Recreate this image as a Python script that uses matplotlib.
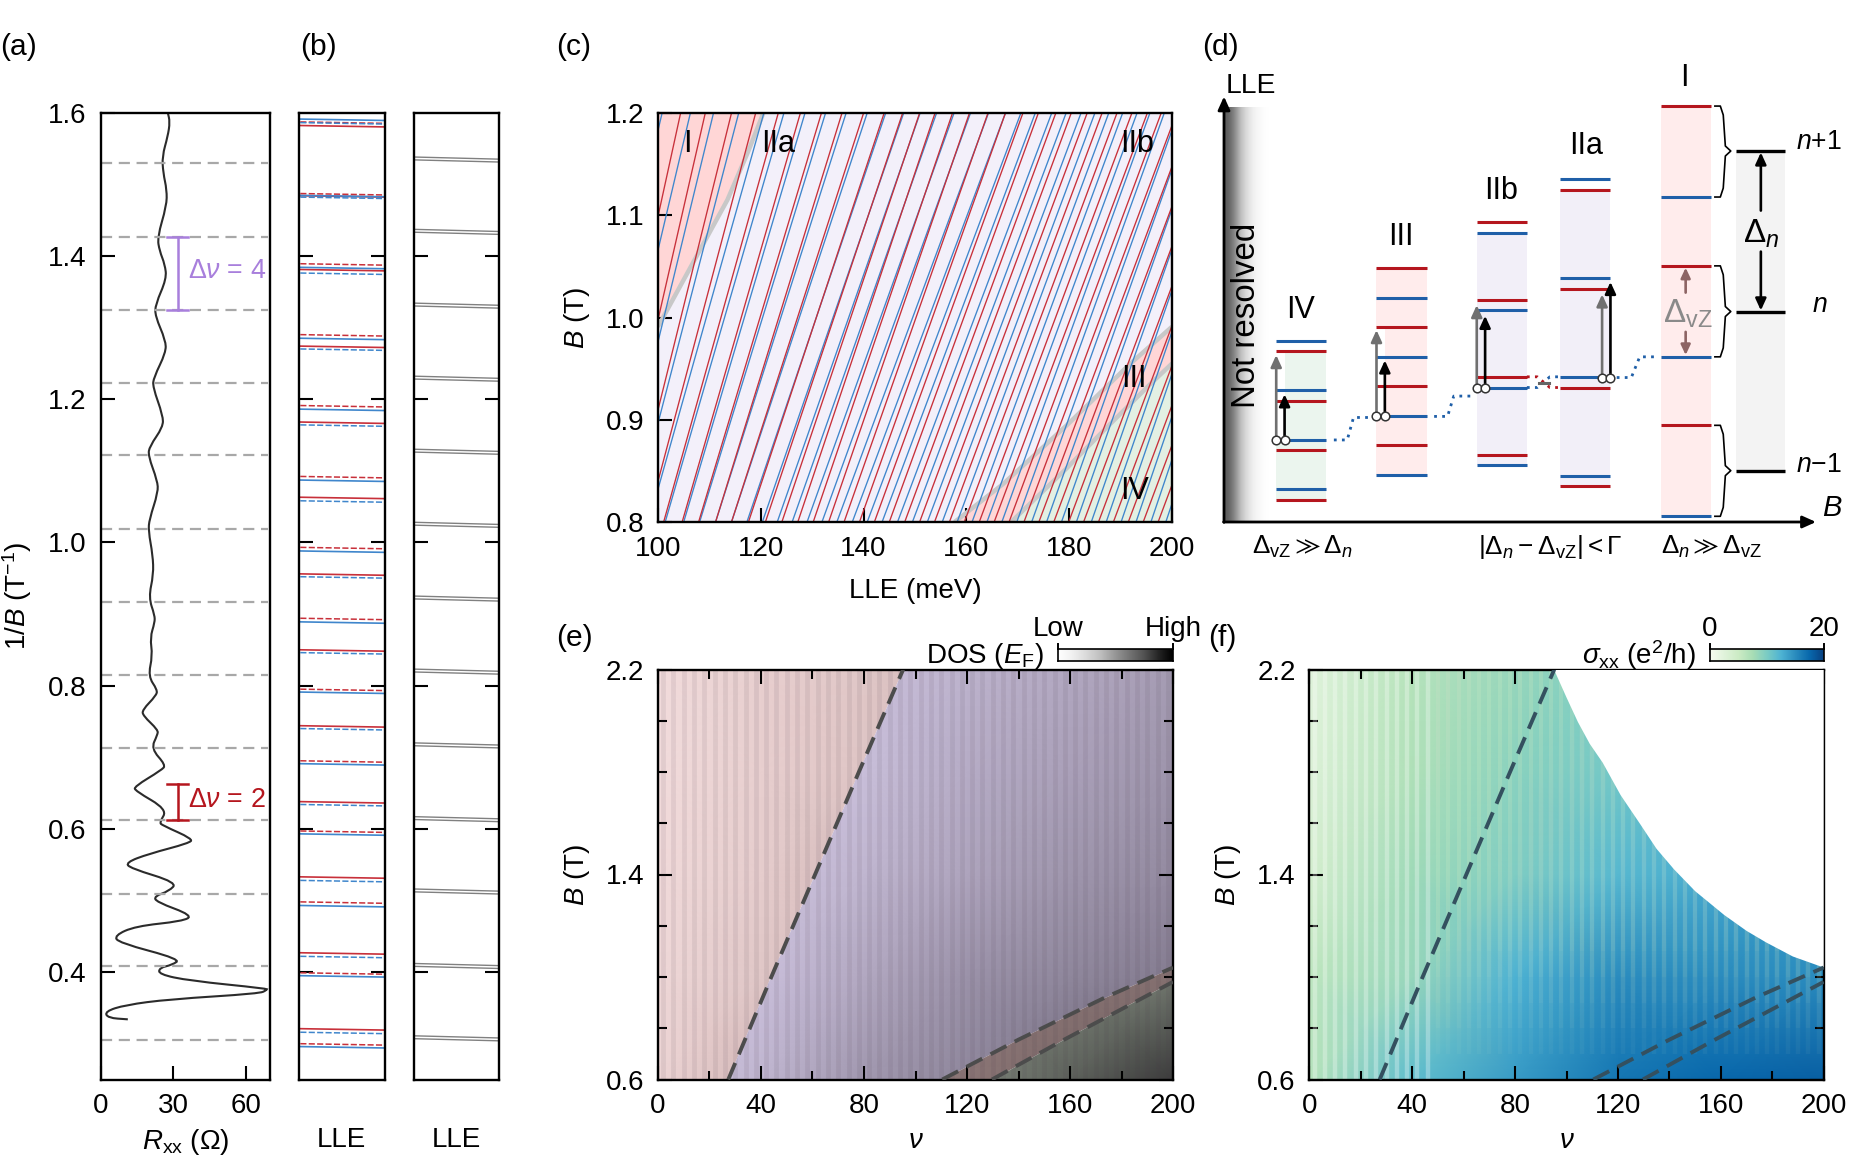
#!/usr/bin/env python3
"""Landau level panels: Rxx trace, level fans, schematic and DOS / sigma maps."""

import matplotlib

matplotlib.use("Agg")
import matplotlib.pyplot as plt
import numpy as np
from matplotlib.colors import LinearSegmentedColormap
from matplotlib.patches import PathPatch, Polygon, Rectangle
from matplotlib.path import Path

plt.rcParams["font.family"] = ["Liberation Sans", "DejaVu Sans"]
plt.rcParams["mathtext.fontset"] = "custom"
plt.rcParams["mathtext.rm"] = "Liberation Sans"
plt.rcParams["mathtext.it"] = "Liberation Sans:italic"
plt.rcParams["mathtext.bf"] = "Liberation Sans:bold"
plt.rcParams["mathtext.fallback"] = "stixsans"
plt.rcParams["font.size"] = 10

WIDTH, HEIGHT = 1856, 1176
RED = "#c8303a"
BLUE = "#3f86cc"
DARK_RED = "#b5161e"
DARK_BLUE = "#1f5fa8"

# panel a
rxx = [27.7, 28.6, 27.7, 25.4, 25.8, 27.3, 27.2, 23.4, 24.3, 26.5, 27.2, 22.6, 22.5, 26.8, 26.9,
       21.9, 21.5, 25.7, 25.7, 20.2, 19.6, 23.4, 23.7, 20.1, 19.7, 21.5, 21.8, 19.8,
       22.3, 22.3, 20.4, 21.4, 19.6, 23.4, 22.9, 17.2, 17.5, 23.7, 23.4, 20.8, 26.9, 25.1,
       13.9, 14.3, 27.5, 24.3, 25.4, 38.0, 36.5, 19.8, 10.4, 12.2, 31.6, 28.2, 22.2, 22.9,
       38.1, 33.7, 14.3, 5.7, 7.4, 33.0, 29.5, 24.3, 24.0, 36.5, 68.6, 68.6, 65.6, 28.2, 10.1,
       1.8, 2.9, 11.2, 11.2]
inv_b = [1.600, 1.587, 1.567, 1.539, 1.516, 1.492, 1.470, 1.426, 1.407, 1.388, 1.368, 1.332, 1.316,
         1.282, 1.265, 1.230, 1.217, 1.177, 1.161, 1.134, 1.121, 1.086, 1.070, 1.032, 1.016,
         0.982, 0.955, 0.923, 0.898, 0.888, 0.867, 0.842, 0.813, 0.794, 0.786, 0.766, 0.758,
         0.738, 0.731, 0.712, 0.689, 0.682, 0.659, 0.653, 0.627, 0.609, 0.605, 0.586, 0.580,
         0.565, 0.553, 0.545, 0.525, 0.513, 0.506, 0.498, 0.479, 0.471, 0.464, 0.451, 0.441,
         0.418, 0.410, 0.406, 0.397, 0.388, 0.377, 0.375, 0.370, 0.362, 0.354, 0.345, 0.336, 0.334, 0.334]
dashed_levels = [1.529, 1.426, 1.325, 1.222, 1.122, 1.019, 0.916, 0.815, 0.713, 0.612, 0.509, 0.408, 0.305]

# panel b
solid_blue = [1.591, 1.4845, 1.384, 1.285, 1.186, 1.087, 0.988, 0.889, 0.791, 0.691, 0.593, 0.493, 0.395, 0.296]
solid_red = [1.582, 1.484, 1.381, 1.274, 1.168, 1.063, 0.956, 0.850, 0.744, 0.638, 0.533, 0.427, 0.321]
dashed_red = [1.587, 1.487, 1.389, 1.290, 1.191, 1.092, 0.993, 0.894, 0.795, 0.695, 0.597, 0.498, 0.399, 0.300]
dashed_blue = [1.586, 1.482, 1.376, 1.270, 1.164, 1.058, 0.952, 0.846, 0.740, 0.634, 0.528, 0.422, 0.316]
gray_upper = [1.538, 1.437, 1.334, 1.232, 1.130, 1.028, 0.925, 0.823, 0.720, 0.617, 0.516, 0.412, 0.311]
gray_lower = [1.534, 1.433, 1.330, 1.228, 1.126, 1.024, 0.921, 0.819, 0.716, 0.613, 0.512, 0.408, 0.307]

# panel c: energy of each level at B = 0.8 T and B = 1.2 T
blue_low = [82, 87.5, 91.5, 95, 98.2, 101.4, 105, 108.1, 111.2, 114.3, 117.3, 120.3, 123.2, 126.1, 129,
            131.9, 134.8, 137.8, 140.7, 143.6, 146.6, 149.5, 152.4, 155.3, 158.2, 161.1, 164, 166.9,
            169.8, 172.7, 175.6, 178.5, 181.4, 184.3, 187.2, 190.1, 193, 195.9, 198.8]
blue_high = [100.8, 106.3, 110.8, 115.7, 120.6, 124.5, 128.6, 132.6, 136.6, 140.7, 144.3, 147.8, 151,
             154.2, 157.6, 160.8, 164.3, 167.6, 170.6, 173.4, 176.6, 179.4, 182.3, 185, 187.7, 190.4,
             193.2, 195.7, 198.5, 201.2, 203.9, 206.6, 209.3, 212, 214.7, 217.4, 220.1, 222.8, 225.5]
red_low = [87, 91, 94.6, 97.9, 101.1, 104.7, 107.9, 111.2, 114.3, 117.6, 120.9, 124.1, 127.2, 130.2,
           133.2, 136.2, 139.2, 142.1, 145, 148, 150.9, 153.8, 156.7, 159.6, 162.5, 165.4, 168.3,
           171.2, 174.1, 177, 179.9, 182.8, 185.7, 188.6, 191.5, 194.4, 197.3, 200.2]
red_high = [104.4, 109.2, 114.3, 119, 123.4, 127.7, 131.8, 135.8, 140, 144, 147.6, 150.9, 153.9, 157.3,
            160.6, 164.2, 167.6, 171, 174, 177.4, 180.4, 183.5, 186.4, 189.3, 192.2, 195.2, 197.9,
            200.9, 203.9, 206.8, 209.7, 212.6, 215.5, 218.4, 221.3, 224.2, 227.1, 230]
region1_lle = [100, 108.6, 113.5, 117.6, 120.5]
region1_b = [0.991, 1.07, 1.115, 1.163, 1.2]
region3_top_lle = [157.7, 167.1, 179.4, 191.7, 200]
region3_top_b = [0.8, 0.837, 0.894, 0.954, 0.991]
region3_bot_lle = [168.7, 179.4, 187.6, 195.8, 200]
region3_bot_b = [0.8, 0.852, 0.894, 0.935, 0.955]

# panels e, f
nu_axis = [0, 40, 80, 120, 160, 200]
b_axis = [0.6, 1.0, 1.4, 1.8, 2.2]
dos_map = [[0.05, 0.20, 0.45, 0.60, 0.80, 1.00],
           [0.04, 0.12, 0.32, 0.50, 0.60, 0.68],
           [0.03, 0.09, 0.20, 0.35, 0.47, 0.56],
           [0.02, 0.08, 0.13, 0.28, 0.38, 0.48],
           [0.02, 0.08, 0.12, 0.22, 0.32, 0.42]]
sigma_map = [[6.5, 11.5, 14.0, 16.5, 17.5, 18.0],
             [6.0, 8.5, 12.5, 15.0, 15.0, 15.0],
             [4.0, 8.0, 9.8, 12.0, 13.0, 14.0],
             [3.0, 7.0, 9.2, 10.5, 12.0, 13.0],
             [2.5, 6.5, 8.5, 10.0, 12.0, 12.0]]
line1_nu = [27.3, 44, 61, 78, 95.2]
line1_b = [0.6, 1.0, 1.4, 1.8, 2.2]
line2_nu = [110.4, 139.9, 173.6, 200]
line2_b = [0.6, 0.755, 0.92, 1.037]
line3_nu = [129.7, 156.7, 182, 200]
line3_b = [0.6, 0.75, 0.885, 0.981]
edge_nu = [95.1, 100, 104.4, 109, 114, 121, 128.8, 135, 141.8, 150, 161.3, 170, 177.6, 188, 200]
edge_b = [2.2, 2.09, 1.995, 1.91, 1.837, 1.71, 1.594, 1.5, 1.42, 1.335, 1.242, 1.18, 1.135, 1.08, 1.037]
stripe_nu = list(range(2, 200, 4))

# panel d: level heights per column, in schematic units
iv_blue = [900, 1039, 1178, 1316]
iv_red = [930, 1068, 1207, 1345]
iii_red = [697, 862, 1027, 1192]
iii_blue = [780, 945, 1110, 1275]
iib_red = [568, 785, 1001, 1219]
iib_blue = [598, 815, 1031, 1248]
iia_blue = [447, 725, 1001, 1279]
iia_red = [477, 754, 1031, 1308]
i_red = [242, 690, 1137]
i_blue = [497, 945, 1392]
n_levels = [368, 818, 1264]


def add_axes_px(fig, left, top, right, bottom):
    return fig.add_axes([left / WIDTH, 1 - bottom / HEIGHT, (right - left) / WIDTH, (bottom - top) / HEIGHT])


def style_ticks(ax):
    for spine in ax.spines.values():
        spine.set_linewidth(0.85)
    ax.tick_params(which="major", direction="in", length=5.2, width=0.75)
    ax.tick_params(axis="x", which="major", pad=5)
    ax.tick_params(axis="y", which="major", pad=5)
    ax.tick_params(which="minor", direction="in", length=3.2, width=0.75)


def smooth_path(xs, ys):
    # the points act as control points, so the trace rounds off like the original
    points = list(zip(xs, ys))
    verts = [points[0]]
    codes = [Path.MOVETO]
    for current, following in zip(points[:-1], points[1:]):
        verts += [current, ((current[0] + following[0]) / 2, (current[1] + following[1]) / 2)]
        codes += [Path.CURVE3, Path.CURVE3]
    return Path(verts, codes)


def draw_panel_a(ax):
    for level in dashed_levels:
        ax.plot([0.3, 69], [level, level], color="#a8a8a8", lw=0.8, dashes=(5, 3))
    ax.add_patch(PathPatch(smooth_path(rxx, inv_b), fc="none", ec="#2b2b2b", lw=0.75))
    for y0, y1, color, label in [(1.426, 1.325, "#a87fdc", r"$\Delta\nu$ = 4"), (0.612, 0.663, DARK_RED, r"$\Delta\nu$ = 2")]:
        ax.plot([32, 32], [y0, y1], color=color, lw=0.9)
        ax.plot([27.5, 36.2], [y0, y0], color=color, lw=0.9)
        ax.plot([27.5, 36.2], [y1, y1], color=color, lw=0.9)
        ax.text(36.0, (y0 + y1) / 2 + 0.003, label, color=color, fontsize=9.7, va="center", ha="left")
    ax.set_xlim(0, 70)
    ax.set_ylim(0.25, 1.6)
    ax.set_xticks([0, 30, 60])
    ax.set_yticks([0.4, 0.6, 0.8, 1.0, 1.2, 1.4, 1.6], labels=["0.4", "0.6", "0.8", "1.0", "1.2", "1.4", "1.6"])
    ax.set_xlabel(r"$R_{\mathrm{xx}}$ ($\Omega$)", labelpad=2.8)
    ax.set_ylabel(r"$1/B$ (T$^{-1}$)", labelpad=5)
    style_ticks(ax)


def draw_panel_b(ax, gray=False):
    if gray:
        for group in (gray_upper, gray_lower):
            for level in group:
                ax.plot([0, 1], [level, level - 0.003], color="#808080", lw=0.5)
    else:
        for levels, color, dashes in [(solid_red, RED, None), (solid_blue, BLUE, None),
                                      (dashed_red, RED, (4, 1.5)), (dashed_blue, BLUE, (4, 1.5))]:
            for level in levels:
                if dashes:
                    ax.plot([0.02, 1], [level, level - 0.002], color=color, lw=0.55, dashes=dashes)
                else:
                    ax.plot([0, 1], [level, level - 0.002], color=color, lw=0.6)
    ax.set_xlim(0, 1)
    ax.set_ylim(0.25, 1.6)
    ax.set_xticks([])
    ax.set_yticks([0.4, 0.6, 0.8, 1.0, 1.2, 1.4], labels=[])
    ax.set_xlabel("LLE", labelpad=17.1)
    style_ticks(ax)
    ax.tick_params(axis="y", left=True, right=True)


def draw_panel_c(ax):
    ax.set_facecolor("#f3f0fa")
    ax.fill_between(region1_lle, region1_b, 1.2, color="#ffd6d6", lw=0)
    top_x = region3_top_lle
    bot_x = region3_bot_lle
    ax.add_patch(Polygon(list(zip(top_x, region3_top_b)) + list(zip(bot_x[::-1], region3_bot_b[::-1])),
                         color="#ffd6d6", lw=0))
    ax.add_patch(Polygon(list(zip(bot_x, region3_bot_b)) + [(200, 0.8)], color="#e3f0e3", lw=0))
    for x, y in [(region1_lle, region1_b), (top_x, region3_top_b), (bot_x, region3_bot_b)]:
        ax.plot(x, y, color="#c8c8c8", lw=1.6, solid_capstyle="butt")
    for low, high in zip(blue_low, blue_high):
        ax.plot([low, high], [0.8, 1.2], color=BLUE, lw=0.48)
    for low, high in zip(red_low, red_high):
        ax.plot([low, high], [0.8, 1.2], color=RED, lw=0.48)
    ax.set_xlim(100, 200)
    ax.set_ylim(0.8, 1.2)
    ax.set_xticks([100, 120, 140, 160, 180, 200])
    ax.set_yticks([0.8, 0.9, 1.0, 1.1, 1.2], labels=["0.8", "0.9", "1.0", "1.1", "1.2"])
    ax.set_xlabel("LLE (meV)", labelpad=5.8)
    ax.set_ylabel(r"$B$ (T)", labelpad=5)
    style_ticks(ax)
    for x, y, text in [(105.7, 1.17, "I"), (123.3, 1.17, "IIa"), (193.3, 1.17, "IIb"),
                       (192.5, 0.94, "III"), (192.7, 0.83, "IV")]:
        ax.text(x, y, text, ha="center", va="center", fontsize=11)


def draw_panel_d(ax):
    ax.imshow([[0.72, 0.45, 0.22, 0.08, 0.0]], extent=(55, 165, 1408, 245), cmap="Greys", vmin=0, vmax=1,
              aspect="auto", interpolation="bicubic", zorder=0)
    ax.set_xlim(55, 1472)
    ax.set_ylim(1408, 225)
    ax.axis("off")
    axis_arrow = dict(arrowstyle="-|>,head_width=0.18,head_length=0.4", color="k", lw=1, shrinkA=0, shrinkB=0)
    ax.annotate("", xy=(55, 215), xytext=(55, 1409), arrowprops=axis_arrow, annotation_clip=False)
    ax.annotate("", xy=(1472, 1408), xytext=(54, 1408), arrowprops=axis_arrow, annotation_clip=False)

    fills = [(180, 300, 1178, 1345, "#ebf5ee"), (200, 300, 930, 1178, "#ebf5ee"),
             (420, 540, 1110, 1275, "#ffecec"), (440, 540, 862, 1110, "#ffecec"), (420, 540, 697, 862, "#ffecec"),
             (660, 780, 598, 1248, "#f2eff8"), (860, 980, 477, 1308, "#f2eff8"),
             (1100, 1220, 242, 1392, "#ffecec"), (1280, 1398, 368, 1264, "#f3f3f3")]
    for x0, x1, y0, y1, color in fills:
        ax.add_patch(Rectangle((x0, y0), x1 - x0, y1 - y0, color=color, lw=0, zorder=1))

    columns = [(180, 300, iv_red, iv_blue), (420, 540, iii_red, iii_blue), (660, 780, iib_red, iib_blue),
               (860, 980, iia_red, iia_blue), (1100, 1220, i_red, i_blue)]
    for x0, x1, reds, blues in columns:
        for level in reds:
            ax.plot([x0, x1], [level, level], color=DARK_RED, lw=1.1, solid_capstyle="butt", zorder=2)
        for level in blues:
            ax.plot([x0, x1], [level, level], color=DARK_BLUE, lw=1.1, solid_capstyle="butt", zorder=2)
    for level in n_levels:
        ax.plot([1280, 1398], [level, level], color="k", lw=1.2, solid_capstyle="butt", zorder=2)

    for x, base, tip, color in [(180, 1178, 940, "#707070"), (200, 1178, 1050, "k"), (420, 1110, 870, "#707070"),
                                (440, 1110, 955, "k"), (660, 1032, 800, "#707070"), (680, 1032, 830, "k"),
                                (960, 1003, 770, "#707070"), (980, 1003, 735, "k")]:
        ax.annotate("", xy=(x, tip), xytext=(x, base),
                    arrowprops=dict(arrowstyle="-|>,head_width=0.16,head_length=0.35", color=color, lw=0.95, shrinkA=0, shrinkB=0), zorder=4)
        ax.plot(x, base, "o", ms=3.1, mfc="white", mec="#333333", mew=0.55, zorder=5)

    for xs, ys, color in [([318, 350, 365, 405], [1178, 1178, 1115, 1115], DARK_BLUE),
                          ([558, 590, 605, 645], [1112, 1112, 1055, 1055], DARK_BLUE),
                          ([995, 1030, 1050, 1085], [1003, 1003, 945, 945], DARK_BLUE),
                          ([780, 805, 835, 860], [1031, 1031, 1001, 1001], DARK_BLUE),
                          ([780, 805, 835, 860], [1001, 1001, 1031, 1031], DARK_RED)]:
        ax.plot(xs, ys, color=color, lw=1.0, ls=(0, (1, 1.9)), zorder=2)
    ax.plot([808, 833], [1018, 1018], color="#666666", lw=1.1, zorder=2)

    for y0, tip, ymid in [(242, 497, 368), (690, 945, 818), (1137, 1392, 1264)]:
        ax.plot([1230, 1243, 1250, 1255, 1268, 1255, 1250, 1243, 1230],
                [y0, y0, y0 + 25, ymid - 14, ymid, ymid + 14, tip - 25, tip, tip], color="k", lw=0.6, zorder=3)

    for tip, base in [(695, 765), (940, 875)]:
        ax.annotate("", xy=(1160, tip), xytext=(1160, base),
                    arrowprops=dict(arrowstyle="-|>,head_width=0.14,head_length=0.3", color="#8d6464", lw=0.95, shrinkA=0, shrinkB=0))
    for tip, base in [(372, 535), (815, 650)]:
        ax.annotate("", xy=(1340, tip), xytext=(1340, base),
                    arrowprops=dict(arrowstyle="-|>,head_width=0.16,head_length=0.35", color="k", lw=0.95, shrinkA=0, shrinkB=0))

    ax.text(108, 830, "Not resolved", rotation=90, ha="center", va="center", fontsize=11.9, zorder=3)
    labels = [(238, 813, "IV", 11), (478, 608, "III", 11), (718, 481, "IIb", 11), (922, 355, "IIa", 11), (1158, 163, "I", 11),
              (120, 186, "LLE", 10.2), (1340, 600, r"$\Delta_n$", 12), (1478, 344, r"$n$+1", 9.6), (1480, 800, r"$n$", 9.6),
              (1478, 1247, r"$n$$-$1", 9.6), (1510, 1370, r"$B$", 10.5)]
    for x, y, text, size in labels:
        ax.text(x, y, text, ha="center", va="center", fontsize=size, clip_on=False)
    ax.text(1165, 825, r"$\Delta_{\mathrm{vZ}}$", ha="center", va="center", color="#8a8a8a", fontsize=12)
    for x, text in [(243, r"$\Delta_{\mathrm{vZ}} \gg \Delta_n$"), (835, r"$|\Delta_n - \Delta_{\mathrm{vZ}}| < \Gamma$"),
                    (1222, r"$\Delta_n \gg \Delta_{\mathrm{vZ}}$")]:
        ax.text(x, 1479, text, ha="center", va="center", fontsize=9.4, clip_on=False)


def region_polygons():
    line1 = list(zip(line1_nu, line1_b))
    line2 = list(zip(line2_nu, line2_b))
    line3 = list(zip(line3_nu, line3_b))
    return [
        ([(0, 0.6)] + line1 + [(0, 2.2)], ["#f6e0e0", "#d2b6b6"], 0.0, 0.2),
        (line1 + [(200, 2.2)] + line2[::-1], ["#d8cdea", "#5f5868"], 0.0, 1.0),
        (line2 + line3[::-1], ["#b89e9e", "#6c5a5a"], 0.0, 1.0),
        (line3 + [(200, 0.6)], ["#7e867b", "#3c3c3c"], 0.6, 1.0),
    ]


def draw_region_lines(ax, color):
    for x, y in [(line1_nu, line1_b), (line2_nu, line2_b), (line3_nu, line3_b)]:
        ax.plot(x, y, color=color, lw=1.4, dashes=(4.6, 2.4), zorder=5)


def map_ticks(ax):
    ax.set_xlim(0, 200)
    ax.set_ylim(0.6, 2.2)
    ax.set_xticks([0, 40, 80, 120, 160, 200])
    ax.set_xticks([20, 60, 100, 140, 180], minor=True)
    ax.set_yticks([0.6, 1.4, 2.2], labels=["0.6", "1.4", "2.2"])
    ax.set_yticks([0.8, 1.0, 1.2, 1.6, 1.8, 2.0], minor=True)
    ax.set_xlabel(r"$\nu$", labelpad=3)
    ax.set_ylabel(r"$B$ (T)", labelpad=5)
    style_ticks(ax)
    ax.tick_params(which="both", top=True, right=True)


def draw_panel_e(ax):
    for vertices, colors, low, high in region_polygons():
        cmap = LinearSegmentedColormap.from_list("region", colors)
        mesh = ax.pcolormesh(nu_axis, b_axis, dos_map, shading="gouraud", cmap=cmap, vmin=low, vmax=high, zorder=1)
        mesh.set_clip_path(Polygon(vertices, transform=ax.transData))
    ax.vlines(stripe_nu, 0.6, 2.2, color="#4a3a4a", lw=1.75, alpha=0.09, zorder=2)
    draw_region_lines(ax, "#4c4c4c")
    map_ticks(ax)


def draw_panel_f(ax):
    ax.pcolormesh(nu_axis, b_axis, sigma_map, shading="gouraud", cmap="GnBu", vmin=0, vmax=20, zorder=1)
    near = [nu for nu in stripe_nu if nu < 50]
    far = [nu for nu in stripe_nu if nu >= 50]
    ax.vlines(near, 0.6, 2.2, color="white", lw=1.6, alpha=0.3, zorder=2)
    for start in (0.7, 0.8, 0.9, 1.0, 1.1):
        ax.vlines(far, start, 2.2, color="#d8f0d0", lw=1.6, alpha=0.05, zorder=2)
    corner = list(zip(edge_nu, edge_b)) + [(200, 2.2)]
    ax.add_patch(Polygon(corner, color="white", lw=0, zorder=3))
    draw_region_lines(ax, "#34505f")
    map_ticks(ax)


def draw_colorbar(ax, cmap, low, high, label):
    ax.imshow([np.linspace(0, 1, 256)], cmap=cmap, aspect="auto", extent=(0, 1, 0, 1))
    ax.set_xlim(0, 1)
    ax.set_yticks([])
    ax.set_xticks([])
    for spine in ax.spines.values():
        spine.set_linewidth(0.6)
    for x in (0, 1):
        ax.plot([x, x], [1, 1.45], color="k", lw=0.7, clip_on=False)
    ax.set_ylim(0, 1)
    ax.text(0, 1.6, low, ha="center", va="bottom", transform=ax.transAxes)
    ax.text(1, 1.6, high, ha="center", va="bottom", transform=ax.transAxes)
    ax.text(-0.12, 0.45, label, ha="right", va="center", transform=ax.transAxes)


def main():
    fig = plt.figure(figsize=(WIDTH / 200, HEIGHT / 200), dpi=200)

    draw_panel_a(add_axes_px(fig, 100.7, 112.6, 270.2, 1079.5))
    draw_panel_b(add_axes_px(fig, 298.6, 112.6, 385, 1079.5))
    draw_panel_b(add_axes_px(fig, 413.6, 112.6, 499, 1079.5), gray=True)
    draw_panel_c(add_axes_px(fig, 658, 113, 1172, 522))
    draw_panel_d(add_axes_px(fig, 1224, 100, 1816, 522))
    draw_panel_e(add_axes_px(fig, 658, 669.5, 1173, 1079.5))
    draw_panel_f(add_axes_px(fig, 1309.5, 669.5, 1823.7, 1079.5))
    draw_colorbar(add_axes_px(fig, 1058, 649, 1173, 661), "Greys", "Low", "High", r"DOS ($E_{\mathrm{F}}$)")
    draw_colorbar(add_axes_px(fig, 1710, 649, 1824, 661), "GnBu", "0", "20", r"$\sigma_{\mathrm{xx}}$ (e$^2$/h)")

    for x, y, text in [(0, 47, "(a)"), (300, 47, "(b)"), (556, 47, "(c)"), (1202, 47, "(d)"),
                       (556, 638, "(e)"), (1208, 638, "(f)")]:
        fig.text(x / WIDTH, 1 - y / HEIGHT, text, ha="left", va="center", fontsize=10.8)

    fig.savefig("out.png", dpi=200)


if __name__ == "__main__":
    main()
